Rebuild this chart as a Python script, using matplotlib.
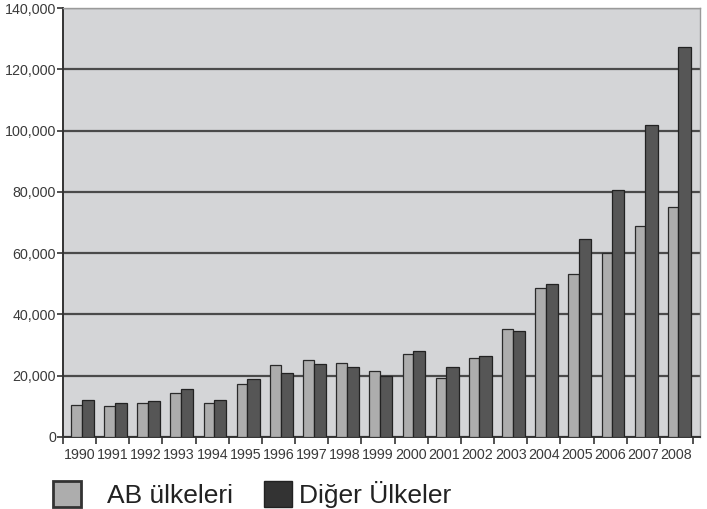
import matplotlib
matplotlib.use("Agg")
import matplotlib.pyplot as plt
from matplotlib.patches import Patch
from matplotlib.ticker import FuncFormatter
import numpy as np

years = ["1990", "1991", "1992", "1993", "1994", "1995", "1996", "1997", "1998", "1999",
         "2000", "2001", "2002", "2003", "2004", "2005", "2006", "2007", "2008"]
ab_ulkeleri = [10400, 10100, 11200, 14450, 11000, 17300, 23500, 25100, 24200, 21600,
               27100, 19350, 25900, 35300, 48500, 53200, 59900, 68900, 75100]
diger_ulkeler = [12100, 11000, 11800, 15550, 12100, 18800, 20800, 23800, 22700, 19900,
                 28200, 22900, 26400, 34600, 49900, 64600, 80600, 101800, 127200]
series_names = ["AB ülkeleri", "Diğer Ülkeler"]
y_ticks = [0, 20000, 40000, 60000, 80000, 100000, 120000, 140000]

plt.rcParams['font.family'] = ['Liberation Sans', 'DejaVu Sans']

fig = plt.figure(figsize=(7.07, 5.09), dpi=100)
ax = fig.add_axes([63 / 707, 72 / 509, 637 / 707, 429 / 509])
ax.set_facecolor("#d4d5d7")

x = np.arange(len(years))
ax.bar(x - 0.26, ab_ulkeleri, width=0.32, align='edge', color="#adadad",
       edgecolor="#2a2a2a", linewidth=0.9, zorder=3)
ax.bar(x + 0.06, diger_ulkeler, width=0.37, align='edge', color="#565656",
       edgecolor="#222222", linewidth=0.9, zorder=3)

ax.set_xlim(-0.5, 18.71)
ax.set_ylim(0, 140000)
ax.set_yticks(y_ticks)
ax.yaxis.set_major_formatter(FuncFormatter(lambda v, p: f"{v:,.0f}"))
ax.yaxis.grid(True, color="#4a4a4a", linewidth=1.6, zorder=1)
ax.set_axisbelow(True)

ax.set_xticks(x)
ax.set_xticklabels(years)
ax.set_xticks(np.arange(-0.5, 19.0, 1.0), minor=True)
ax.tick_params(axis='x', which='major', length=0, pad=8, labelsize=10.3, labelcolor="#3a3a3a")
ax.tick_params(axis='x', which='minor', length=5, width=1.2, color="#333333", direction='out')
ax.tick_params(axis='y', length=4, width=1.2, color="#333333", labelsize=10.3,
               labelcolor="#3a3a3a", pad=1)

for side in ['left', 'bottom']:
    ax.spines[side].set_color("#333333")
    ax.spines[side].set_linewidth(1.4)
for side in ['top', 'right']:
    ax.spines[side].set_color("#9a9a9a")
    ax.spines[side].set_linewidth(1.0)

handles = [Patch(facecolor="#adadad", edgecolor="#333333", linewidth=2.0),
           Patch(facecolor="#333333", edgecolor="#222222", linewidth=1.0)]
leg_common = dict(loc='lower left', frameon=False,
                  prop={'family': 'Liberation Sans', 'size': 19},
                  handlelength=1.05, handleheight=1.12,
                  borderpad=0.0, borderaxespad=0.0, labelcolor="#222222")
fig.legend([handles[0]], [series_names[0]], bbox_to_anchor=(53 / 707, 1 / 509),
           handletextpad=1.0, **leg_common)
fig.legend([handles[1]], [series_names[1]], bbox_to_anchor=(264 / 707, 1 / 509),
           handletextpad=0.27, **leg_common)

fig.savefig("out.png", dpi=100, facecolor="white")
